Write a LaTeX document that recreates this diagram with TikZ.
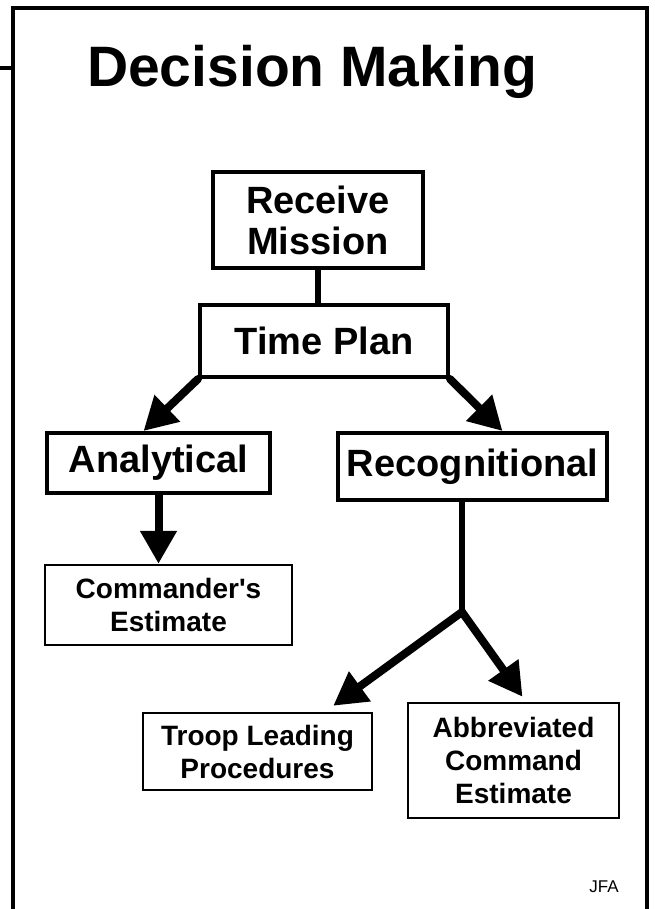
\documentclass[tikz,border=0pt]{standalone}
\usepackage{fontspec}
\setmainfont{Liberation Sans}
\usetikzlibrary{arrows.meta}
\begin{document}
\begin{tikzpicture}[
        x=1pt, y=-1pt,
        bigbox/.style={draw, line width=4pt, inner sep=0pt, align=center, font=\fontsize{38}{41}\selectfont\bfseries},
        smallbox/.style={draw, line width=2.5pt, inner sep=0pt, align=center, font=\fontsize{28}{33}\selectfont\bfseries},
        link/.style={line width=5.5pt},
        bigarrow/.style={line width=8pt, line cap=round, -{Triangle[length=33pt,width=35pt]}}
    ]
    \useasboundingbox (0,0) rectangle (654,909);
    \draw[line width=4.5pt] (13,909) -- (13,8) -- (647,8) -- (647,909) (0,68) -- (13,68);
    \node[font=\fontsize{57}{60}\selectfont\bfseries, anchor=base] (title) at (312,87) {Decision Making};
    \node[bigbox, minimum width=210pt, minimum height=96pt] (recv) at (318,220) {Receive\\Mission};
    \node[bigbox, minimum width=248pt, minimum height=72pt] (time) at (324,341) {Time Plan};
    \node[bigbox, minimum width=223pt, minimum height=60pt] (ana) at (158.5,463) {Analytical};
    \node[bigbox, minimum width=269pt, minimum height=67pt] (rec) at (472.5,466.5) {Recognitional};
    \node[smallbox, minimum width=247pt, minimum height=80pt] (cmd) at (168.5,605) {Commander\textquotesingle s\\Estimate};
    \node[smallbox, minimum width=229pt, minimum height=77pt] (troop) at (257.5,751.5) {Troop Leading\\Procedures};
    \node[smallbox, minimum width=211pt, minimum height=115pt] (abbr) at (513.5,760.5) {Abbreviated\\Command\\Estimate};
    \node[font=\fontsize{17}{20}\selectfont, anchor=base] (jfa) at (604,892) {JFA};
    \coordinate (fork) at (462,612);
    \draw[link] (recv.south) -- (recv.south |- time.north);
    \draw[bigarrow] (time.south west) -- ([xshift=-15pt]ana.north);
    \draw[bigarrow] (time.south east) -- ([xshift=30pt]rec.north);
    \draw[bigarrow] (ana.south) -- (ana.south |- cmd.north);
    \draw[link] (fork |- rec.south) -- (fork);
    \draw[bigarrow] (fork) -- ([xshift=-40pt,yshift=6pt]troop.north east);
    \draw[bigarrow] (fork) -- ([xshift=9pt,yshift=5pt]abbr.north);
\end{tikzpicture}
\end{document}
